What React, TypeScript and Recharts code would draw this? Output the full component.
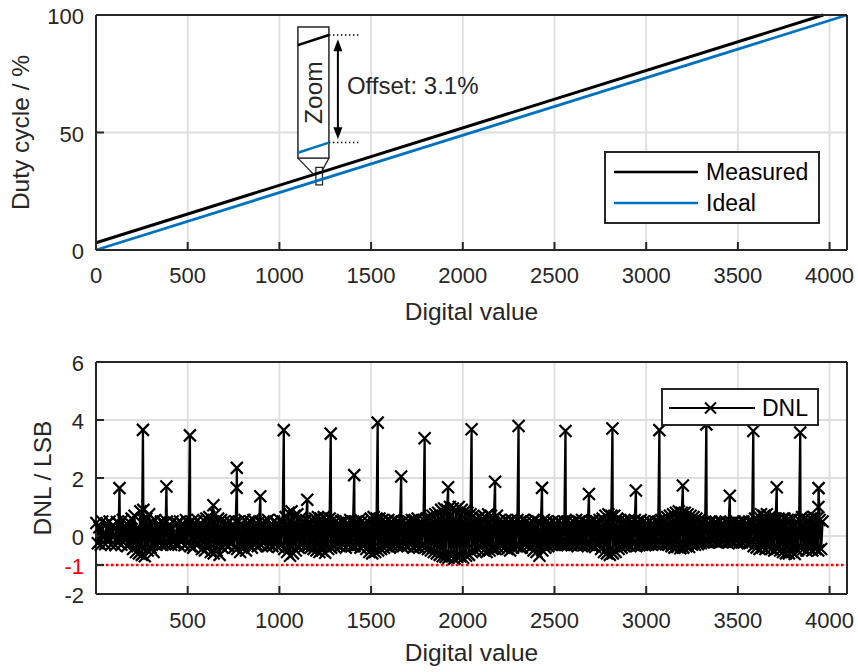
import {
  ComposedChart,
  Line,
  XAxis,
  YAxis,
  CartesianGrid,
  ReferenceArea,
  ReferenceLine,
  Legend,
} from "recharts";

const FONT = '"Liberation Sans", Arial, Helvetica, sans-serif';
const INK = "#262626";
const GRID = "#dedede";
const BLUE = "#0072bd";
const RED = "#ff0000";

const CODE_DOMAIN: [number, number] = [0, 4095];

// top panel: duty cycle transfer curve
const TOP_X_TICKS = [0, 500, 1000, 1500, 2000, 2500, 3000, 3500, 4000];
const TOP_Y_TICKS = [0, 50, 100];
const MEASURED_CODE = [0, 3966];
const MEASURED_DUTY = [3.1, 100];
const IDEAL_CODE = [0, 4095];
const IDEAL_DUTY = [0, 100];
const OFFSET_TEXT = "Offset: 3.1%";

// bottom panel: DNL
const BOTTOM_X_TICKS = [500, 1000, 1500, 2000, 2500, 3000, 3500, 4000];
const BOTTOM_Y_TICKS = [-2, -1, 0, 2, 4, 6];
const DNL_LIMIT = -1;

// the big missing-code spikes (every 128 codes)
const SPIKE_CODE = [
  128, 256, 384, 512, 640, 767, 768, 896, 1024, 1152, 1280, 1408, 1536, 1664, 1792,
  1920, 2048, 2176, 2304, 2432, 2560, 2688, 2816, 2944, 3072, 3200, 3328, 3456, 3584,
  3712, 3840, 3939, 3940,
];
const SPIKE_DNL = [
  1.65, 3.66, 1.71, 3.47, 1.06, 1.66, 2.35, 1.37, 3.65, 1.25, 3.53, 2.1, 3.91, 2.05, 3.37,
  1.68, 3.68, 1.87, 3.79, 1.66, 3.62, 1.45, 3.71, 1.57, 3.65, 1.74, 3.85, 1.39, 3.62,
  1.68, 3.57, 1.0, 1.65,
];

const NOISE_START = 2;
const NOISE_STEP = 8;
const NOISE_DNL = [
  0.45, -0.25, 0.3, -0.3, 0.5, 0.1, -0.28, 0.42,
  -0.2, 0.5, -0.3, 0.35, 0.05, -0.32, 0.48, -0.22,
  0.4, -0.3, 0.55, -0.1, 0.3, -0.35, 0.5, -0.25,
  0.6, -0.45, 0.7, -0.55, 0.3, -0.6, 0.85, -0.65,
  0.9, -0.7, 0.6, -0.5, 0.75, -0.4, 0.5, -0.55,
  0.55, -0.3, 0.4, -0.25, 0.5, -0.3, 0.45, -0.28,
  0.5, -0.25, 0.35, -0.3, 0.5, 0.0, -0.28, 0.45,
  -0.3, 0.5, -0.2, 0.4, -0.32, 0.55, -0.25, 0.45,
  -0.35, 0.5, -0.4, 0.45, -0.3, 0.55, -0.25, 0.4,
  -0.45, 0.55, -0.5, 0.6, -0.35, 0.65, -0.55, 0.5,
  -0.6, 0.75, -0.5, 0.6, -0.65, 0.55, -0.4, 0.5,
  -0.3, 0.45, -0.35, 0.5, -0.25, 0.4, -0.4, 0.5,
  -0.45, 0.5, -0.55, 0.4, -0.35, 0.55, -0.5, 0.45,
  -0.3, 0.5, -0.4, 0.55, -0.3, 0.45, -0.35, 0.5,
  -0.3, 0.45, -0.25, 0.5, -0.35, 0.55, -0.3, 0.4,
  -0.35, 0.5, -0.3, 0.45, -0.38, 0.55, -0.3, 0.5,
  -0.45, 0.65, -0.55, 0.8, -0.68, 0.85, -0.6, 0.7,
  -0.5, 0.75, -0.4, 0.6, -0.3, 0.5, -0.35, 0.55,
  -0.35, 0.5, -0.4, 0.55, -0.45, 0.6, -0.5, 0.65,
  -0.55, 0.6, -0.5, 0.65, -0.58, 0.55, -0.45, 0.6,
  -0.4, 0.55, -0.35, 0.5, -0.3, 0.45, -0.35, 0.5,
  -0.3, 0.5, -0.4, 0.45, -0.3, 0.55, -0.35, 0.5,
  -0.35, 0.5, -0.3, 0.55, -0.4, 0.5, -0.35, 0.45,
  -0.45, 0.5, -0.55, 0.6, -0.6, 0.65, -0.55, 0.6,
  -0.5, 0.6, -0.45, 0.55, -0.4, 0.5, -0.35, 0.55,
  -0.4, 0.5, -0.35, 0.55, -0.3, 0.5, -0.32, 0.45,
  -0.35, 0.5, -0.3, 0.45, -0.35, 0.5, -0.3, 0.55,
  -0.4, 0.55, -0.35, 0.6, -0.4, 0.5, -0.35, 0.55,
  -0.4, 0.6, -0.45, 0.65, -0.5, 0.7, -0.55, 0.75,
  -0.6, 0.8, -0.65, 0.9, -0.7, 0.95, -0.72, 0.9,
  -0.75, 1.0, -0.7, 0.95, -0.78, 0.9, -0.72, 1.0,
  -0.7, 0.9, -0.75, 0.85, -0.68, 0.8, -0.65, 0.75,
  -0.55, 0.7, -0.5, 0.6, -0.45, 0.65, -0.4, 0.6,
  -0.5, 0.65, -0.55, 0.75, -0.5, 0.7, -0.45, 0.6,
  -0.45, 0.7, -0.4, 0.55, -0.35, 0.5, -0.4, 0.55,
  -0.45, 0.5, -0.5, 0.55, -0.4, 0.5, -0.35, 0.55,
  -0.35, 0.5, -0.4, 0.55, -0.3, 0.5, -0.35, 0.45,
  -0.4, 0.5, -0.5, 0.55, -0.55, 0.5, -0.68, 0.45,
  -0.5, 0.55, -0.4, 0.5, -0.35, 0.45, -0.3, 0.5,
  -0.3, 0.45, -0.32, 0.5, -0.28, 0.45, -0.3, 0.5,
  -0.3, 0.5, -0.28, 0.45, -0.32, 0.5, -0.3, 0.55,
  -0.35, 0.5, -0.3, 0.55, -0.32, 0.5, -0.28, 0.45,
  -0.3, 0.5, -0.35, 0.55, -0.38, 0.5, -0.3, 0.55,
  -0.45, 0.6, -0.55, 0.7, -0.6, 0.75, -0.65, 0.7,
  -0.6, 0.7, -0.55, 0.6, -0.45, 0.55, -0.4, 0.5,
  -0.35, 0.5, -0.32, 0.55, -0.35, 0.5, -0.3, 0.55,
  -0.35, 0.5, -0.32, 0.55, -0.3, 0.5, -0.32, 0.45,
  -0.3, 0.5, -0.28, 0.45, -0.25, 0.5, -0.28, 0.5,
  -0.25, 0.55, -0.3, 0.6, -0.28, 0.65, -0.3, 0.7,
  -0.35, 0.75, -0.4, 0.8, -0.38, 0.85, -0.42, 0.8,
  -0.4, 0.8, -0.35, 0.75, -0.38, 0.7, -0.3, 0.65,
  -0.3, 0.6, -0.28, 0.55, -0.25, 0.5, -0.22, 0.5,
  -0.2, 0.45, -0.22, 0.5, -0.18, 0.45, -0.2, 0.45,
  -0.22, 0.5, -0.2, 0.45, -0.18, 0.5, -0.22, 0.45,
  -0.2, 0.45, -0.22, 0.5, -0.2, 0.45, -0.25, 0.45,
  -0.22, 0.5, -0.2, 0.45, -0.25, 0.5, -0.22, 0.5,
  -0.35, 0.6, -0.4, 0.7, -0.45, 0.75, -0.4, 0.7,
  -0.45, 0.75, -0.4, 0.65, -0.45, 0.6, -0.5, 0.6,
  -0.45, 0.6, -0.5, 0.55, -0.55, 0.6, -0.6, 0.55,
  -0.6, 0.55, -0.55, 0.6, -0.62, 0.5, -0.5, 0.55,
  -0.4, 0.65, -0.45, 0.6, -0.5, 0.55, -0.45, 0.6,
  -0.5, 0.65, -0.45, 0.6, -0.5, 0.55, -0.45, 0.5,
];

const measuredData = MEASURED_CODE.map((code, i) => ({ code, duty: MEASURED_DUTY[i] }));
const idealData = IDEAL_CODE.map((code, i) => ({ code, duty: IDEAL_DUTY[i] }));
const dnlData = [
  ...NOISE_DNL.map((dnl, i) => ({ code: NOISE_START + NOISE_STEP * i, dnl })),
  ...SPIKE_CODE.map((code, i) => ({ code, dnl: SPIKE_DNL[i] })),
].sort((a, b) => a.code - b.code);

// zoom inset (in data units of the top panel)
const ZOOM_BOX = { x1: 1101, x2: 1270, y1: 39.1, y2: 94.9 };
const ZOOM_SPOT = { x1: 1199, x2: 1235, y1: 27.7, y2: 35.2 };
const ZOOM_MEASURED = [87.2, 91.5];
const ZOOM_IDEAL = [41.4, 45.7];
const ZOOM_GUIDE_END = 1439;
const ARROW_CODE = 1319;
const ARROW_SPAN = [47.1, 89.7];

const axisLine = { stroke: INK, strokeWidth: 2 };
const tickLine = { stroke: INK, strokeWidth: 2 };

const XTick = (props: any) => (
  <text x={props.x} y={props.y} textAnchor="middle" fill={INK} fontSize={22} fontFamily={FONT}>
    {props.payload.value}
  </text>
);

const YTick = (props: any) => {
  const v = props.payload.value;
  return (
    <text
      x={props.x}
      y={props.y}
      dy={9}
      textAnchor="end"
      fill={v === DNL_LIMIT ? RED : INK}
      fontSize={22}
      fontFamily={FONT}
    >
      {v}
    </text>
  );
};

const xTitle = (dy: number) => (props: any) => {
  const vb = props.viewBox;
  return (
    <text x={vb.x + vb.width / 2} y={vb.y + dy} textAnchor="middle" fill={INK} fontSize={24.5} fontFamily={FONT}>
      Digital value
    </text>
  );
};

const yTitle = (text: string, x: number) => (props: any) => {
  const vb = props.viewBox;
  const y = vb.y + vb.height / 2;
  return (
    <text
      x={x}
      y={y}
      transform={`rotate(-90 ${x} ${y})`}
      textAnchor="middle"
      fill={INK}
      fontSize={24.5}
      fontFamily={FONT}
    >
      {text}
    </text>
  );
};

const Cross = (props: any) => {
  const { cx, cy, index } = props;
  if (cx == null || cy == null) return <g key={`x-${index}`} />;
  const s = 6;
  return (
    <path
      key={`x-${index}`}
      d={`M${cx - s},${cy - s}L${cx + s},${cy + s}M${cx - s},${cy + s}L${cx + s},${cy - s}`}
      stroke="#000"
      strokeWidth={2.2}
      fill="none"
    />
  );
};

const ZoomBoxShape = (props: any) => {
  const { x, y, width, height } = props;
  const cx = x + width / 2;
  const cy = y + height / 2;
  return (
    <g>
      <rect x={x} y={y} width={width} height={height} fill="#fff" stroke={INK} strokeWidth={1.5} />
      <text
        x={cx}
        y={cy}
        transform={`rotate(-90 ${cx} ${cy})`}
        textAnchor="middle"
        dominantBaseline="central"
        fill={INK}
        fontSize={24.5}
        fontFamily={FONT}
      >
        Zoom
      </text>
    </g>
  );
};

const ArrowShape = (props: any) => {
  const { x1, y1, y2 } = props;
  const top = Math.min(y1, y2);
  const bot = Math.max(y1, y2);
  const hl = 12;
  const hw = 4.5;
  return (
    <g>
      <line x1={x1} x2={x1} y1={top + hl - 1} y2={bot - hl + 1} stroke="#000" strokeWidth={2} />
      <polygon points={`${x1},${top} ${x1 - hw},${top + hl} ${x1 + hw},${top + hl}`} fill="#000" />
      <polygon points={`${x1},${bot} ${x1 - hw},${bot - hl} ${x1 + hw},${bot - hl}`} fill="#000" />
      <text
        x={x1 + 9}
        y={(top + bot) / 2 - 4}
        dominantBaseline="central"
        fill={INK}
        fontSize={24}
        fontFamily={FONT}
      >
        {OFFSET_TEXT}
      </text>
    </g>
  );
};

const TopLegend = (props: any) => {
  const items = props.payload ?? [];
  return (
    <svg width={216} height={73} style={{ display: "block" }}>
      <rect x={1} y={1} width={214} height={71} fill="#fff" stroke={INK} strokeWidth={2} />
      {items.map((it: any, i: number) => (
        <g key={it.value}>
          <line x1={10} x2={94} y1={21 + i * 31} y2={21 + i * 31} stroke={it.color} strokeWidth={2.5} />
          <text x={102} y={21 + i * 31} dy={8} fill="#000" fontSize={23} fontFamily={FONT}>
            {it.value}
          </text>
        </g>
      ))}
    </svg>
  );
};

const DnlLegend = (props: any) => {
  const items = props.payload ?? [];
  return (
    <svg width={158} height={38} style={{ display: "block" }}>
      <rect x={1} y={1} width={156} height={36} fill="#fff" stroke={INK} strokeWidth={2} />
      {items.map((it: any) => (
        <g key={it.value}>
          <line x1={8} x2={94} y1={20} y2={20} stroke="#000" strokeWidth={2} />
          <path d="M44,14.5L55,25.5M44,25.5L55,14.5" stroke="#000" strokeWidth={2} />
          <text x={101} y={20} dy={8} fill="#000" fontSize={23} fontFamily={FONT}>
            {it.value}
          </text>
        </g>
      ))}
    </svg>
  );
};

export default function App() {
  return (
    <div style={{ position: "absolute", left: 0, top: 0, width: 858, height: 672, background: "#fff", fontFamily: FONT }}>
      {/* top: transfer curve */}
      <div style={{ position: "absolute", left: 0, top: 0 }}>
        <ComposedChart width={858} height={330} margin={{ top: 14, right: 10, bottom: 0, left: 0 }}>
          <CartesianGrid stroke={GRID} strokeWidth={1.8} />
          <XAxis
            dataKey="code"
            type="number"
            domain={CODE_DOMAIN}
            ticks={TOP_X_TICKS}
            interval={0}
            height={80}
            axisLine={axisLine}
            tickLine={tickLine}
            tickSize={-8}
            tickMargin={41}
            tick={<XTick />}
            label={xTitle(70)}
          />
          <XAxis
            xAxisId="top"
            orientation="top"
            type="number"
            domain={CODE_DOMAIN}
            ticks={TOP_X_TICKS}
            interval={0}
            height={1}
            axisLine={axisLine}
            tickLine={tickLine}
            tickSize={-8}
            tick={false}
          />
          <YAxis
            type="number"
            domain={[0, 100]}
            ticks={TOP_Y_TICKS}
            interval={0}
            width={96}
            axisLine={axisLine}
            tickLine={tickLine}
            tickSize={-8}
            tickMargin={20}
            tick={<YTick />}
            label={yTitle("Duty cycle / %", 29)}
          />
          <YAxis
            yAxisId="right"
            orientation="right"
            type="number"
            domain={[0, 100]}
            ticks={TOP_Y_TICKS}
            interval={0}
            width={1}
            axisLine={axisLine}
            tickLine={tickLine}
            tickSize={-8}
            tick={false}
          />
          <Line
            data={idealData}
            dataKey="duty"
            name="Ideal"
            stroke={BLUE}
            strokeWidth={2.8}
            dot={false}
            activeDot={false}
            isAnimationActive={false}
          />
          <Line
            data={measuredData}
            dataKey="duty"
            name="Measured"
            stroke="#000"
            strokeWidth={3}
            dot={false}
            activeDot={false}
            isAnimationActive={false}
          />
          <ReferenceArea
            x1={ZOOM_BOX.x1}
            x2={ZOOM_BOX.x2}
            y1={ZOOM_BOX.y1}
            y2={ZOOM_BOX.y2}
            shape={<ZoomBoxShape />}
          />
          <ReferenceLine
            segment={[{ x: ZOOM_BOX.x1, y: ZOOM_MEASURED[0] }, { x: ZOOM_BOX.x2, y: ZOOM_MEASURED[1] }]}
            stroke="#000"
            strokeWidth={2.5}
          />
          <ReferenceLine
            segment={[{ x: ZOOM_BOX.x1, y: ZOOM_IDEAL[0] }, { x: ZOOM_BOX.x2, y: ZOOM_IDEAL[1] }]}
            stroke={BLUE}
            strokeWidth={2.5}
          />
          <ReferenceLine
            segment={[{ x: ZOOM_BOX.x2, y: ZOOM_MEASURED[1] }, { x: ZOOM_GUIDE_END, y: ZOOM_MEASURED[1] }]}
            stroke="#000"
            strokeWidth={1.5}
            strokeDasharray="1.5 2.5"
          />
          <ReferenceLine
            segment={[{ x: ZOOM_BOX.x2, y: ZOOM_IDEAL[1] }, { x: ZOOM_GUIDE_END, y: ZOOM_IDEAL[1] }]}
            stroke="#000"
            strokeWidth={1.5}
            strokeDasharray="1.5 2.5"
          />
          <ReferenceLine
            segment={[{ x: ZOOM_BOX.x1, y: ZOOM_BOX.y1 }, { x: 1190, y: 31.9 }]}
            stroke={INK}
            strokeWidth={1.3}
          />
          <ReferenceLine
            segment={[{ x: ZOOM_BOX.x2, y: ZOOM_BOX.y1 }, { x: 1235, y: 34.0 }]}
            stroke={INK}
            strokeWidth={1.3}
          />
          <ReferenceArea
            x1={ZOOM_SPOT.x1}
            x2={ZOOM_SPOT.x2}
            y1={ZOOM_SPOT.y1}
            y2={ZOOM_SPOT.y2}
            fill="none"
            fillOpacity={0}
            stroke={INK}
            strokeWidth={1.3}
          />
          <ReferenceLine
            segment={[{ x: ARROW_CODE, y: ARROW_SPAN[0] }, { x: ARROW_CODE, y: ARROW_SPAN[1] }]}
            shape={<ArrowShape />}
          />
          <Legend
            layout="horizontal"
            verticalAlign="middle"
            align="center"
            content={(p: any) => <TopLegend payload={[...(p.payload ?? [])].reverse()} />}
            wrapperStyle={{ left: 604, top: 151, width: 216, height: 73 }}
          />
        </ComposedChart>
      </div>

      {/* bottom: DNL */}
      <div style={{ position: "absolute", left: 0, top: 340 }}>
        <ComposedChart width={858} height={332} margin={{ top: 21, right: 10, bottom: 0, left: 0 }}>
          <CartesianGrid stroke={GRID} strokeWidth={1.8} />
          <XAxis
            dataKey="code"
            type="number"
            domain={CODE_DOMAIN}
            ticks={BOTTOM_X_TICKS}
            interval={0}
            height={78}
            axisLine={axisLine}
            tickLine={tickLine}
            tickSize={-8}
            tickMargin={42}
            tick={<XTick />}
            label={xTitle(67)}
          />
          <XAxis
            xAxisId="top"
            orientation="top"
            type="number"
            domain={CODE_DOMAIN}
            ticks={BOTTOM_X_TICKS}
            interval={0}
            height={1}
            axisLine={axisLine}
            tickLine={tickLine}
            tickSize={-8}
            tick={false}
          />
          <YAxis
            type="number"
            domain={[-2, 6]}
            ticks={BOTTOM_Y_TICKS}
            interval={0}
            width={96}
            axisLine={axisLine}
            tickLine={tickLine}
            tickSize={-8}
            tickMargin={20}
            tick={<YTick />}
            label={yTitle("DNL / LSB", 51)}
          />
          <YAxis
            yAxisId="right"
            orientation="right"
            type="number"
            domain={[-2, 6]}
            ticks={BOTTOM_Y_TICKS}
            interval={0}
            width={1}
            axisLine={axisLine}
            tickLine={tickLine}
            tickSize={-8}
            tick={false}
          />
          <ReferenceLine y={DNL_LIMIT} stroke={RED} strokeWidth={2.5} strokeDasharray="2.5 2.5" />
          <Line
            data={dnlData}
            dataKey="dnl"
            name="DNL"
            stroke="#000"
            strokeWidth={2.3}
            dot={Cross}
            activeDot={false}
            isAnimationActive={false}
          />
          <Legend
            layout="horizontal"
            verticalAlign="middle"
            align="center"
            content={(p: any) => <DnlLegend payload={p.payload} />}
            wrapperStyle={{ left: 661, top: 48, width: 158, height: 38 }}
          />
        </ComposedChart>
      </div>
    </div>
  );
}
